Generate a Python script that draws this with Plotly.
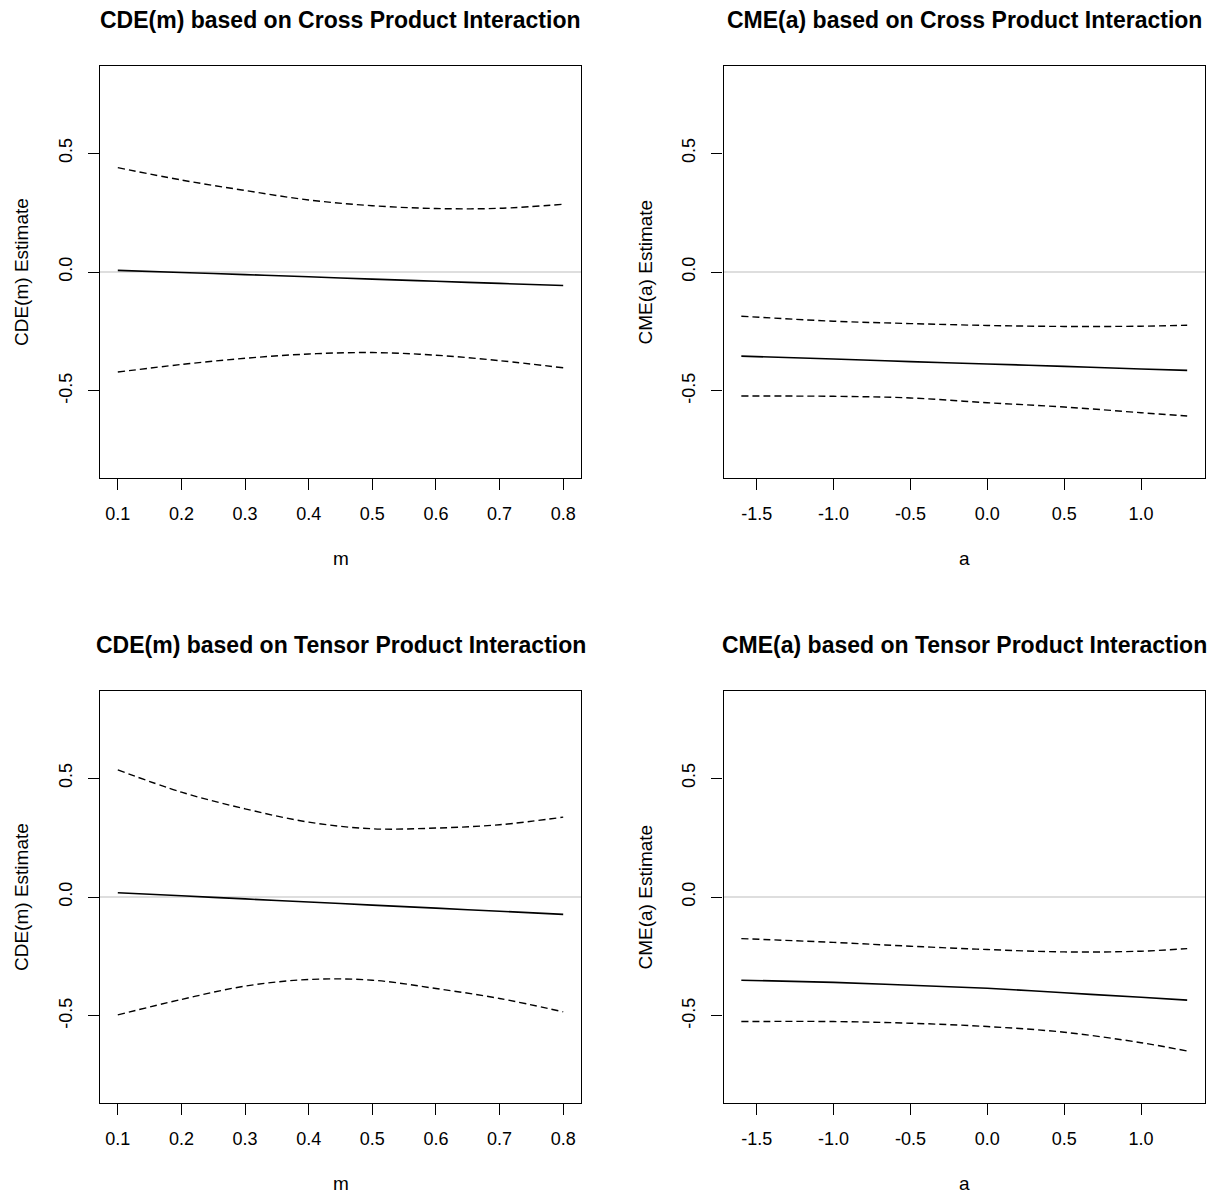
import plotly.graph_objects as go

# ---------------- data ----------------
m_vals = [0.1, 0.2, 0.3, 0.4, 0.5, 0.6, 0.7, 0.8]
a_vals = [-1.6, -1.0, -0.5, 0.0, 0.5, 1.0, 1.3]

# CDE(m), cross product interaction
cde_cross_est = [0.007, -0.002, -0.011, -0.020, -0.030, -0.039, -0.048, -0.057]
cde_cross_up = [0.439, 0.387, 0.343, 0.303, 0.279, 0.267, 0.268, 0.285]
cde_cross_lo = [-0.421, -0.389, -0.363, -0.345, -0.339, -0.350, -0.373, -0.403]

# CME(a), cross product interaction
cme_cross_est = [-0.354, -0.366, -0.377, -0.387, -0.397, -0.408, -0.414]
cme_cross_up = [-0.186, -0.207, -0.217, -0.225, -0.229, -0.228, -0.224]
cme_cross_lo = [-0.522, -0.523, -0.530, -0.550, -0.568, -0.592, -0.606]

# CDE(m), tensor product interaction
cde_tensor_est = [0.018, 0.005, -0.008, -0.021, -0.034, -0.047, -0.060, -0.073]
cde_tensor_up = [0.535, 0.441, 0.371, 0.315, 0.287, 0.290, 0.304, 0.336]
cde_tensor_lo = [-0.496, -0.431, -0.375, -0.347, -0.350, -0.385, -0.427, -0.483]

# CME(a), tensor product interaction
cme_tensor_est = [-0.350, -0.359, -0.371, -0.384, -0.403, -0.422, -0.434]
cme_tensor_up = [-0.175, -0.191, -0.207, -0.221, -0.231, -0.228, -0.217]
cme_tensor_lo = [-0.524, -0.524, -0.531, -0.545, -0.569, -0.613, -0.648]

titles = ["CDE(m) based on Cross Product Interaction",
          "CME(a) based on Cross Product Interaction",
          "CDE(m) based on Tensor Product Interaction",
          "CME(a) based on Tensor Product Interaction"]
ylabels = ["CDE(m) Estimate", "CME(a) Estimate", "CDE(m) Estimate", "CME(a) Estimate"]
xlabels = ["m", "a", "m", "a"]
m_ticks = [0.1, 0.2, 0.3, 0.4, 0.5, 0.6, 0.7, 0.8]
a_ticks = [-1.5, -1.0, -0.5, 0.0, 0.5, 1.0]
y_ticks = [-0.5, 0.0, 0.5]

# ---------------- layout geometry ----------------
OFF = 8  # page body margin in browser
W, H = 1216 - OFF, 1197 - OFF
FONT = "Liberation Sans, Arial, sans-serif"
panels_px = [  # (left, right, top, bottom) in page pixels
    (100, 581, 66, 478),
    (723.5, 1205, 66, 478),
    (100, 581, 691, 1103),
    (723.5, 1205, 691, 1103),
]

panel_data = [
    (m_vals, cde_cross_est, cde_cross_up, cde_cross_lo),
    (a_vals, cme_cross_est, cme_cross_up, cme_cross_lo),
    (m_vals, cde_tensor_est, cde_tensor_up, cde_tensor_lo),
    (a_vals, cme_tensor_est, cme_tensor_up, cme_tensor_lo),
]


def px_x(p):
    return (p - OFF) / W


def px_y(p):
    return 1 - (p - OFF) / H


fig = go.Figure()
annotations = []
layout_axes = {}

for i, ((l, r, t, b), (xs, est, up, lo)) in enumerate(zip(panels_px, panel_data)):
    n = i + 1
    xa = "x" if n == 1 else f"x{n}"
    ya = "y" if n == 1 else f"y{n}"
    xkey = "xaxis" if n == 1 else f"xaxis{n}"
    ykey = "yaxis" if n == 1 else f"yaxis{n}"

    xmin, xmax = min(xs), max(xs)
    pad = 0.04 * (xmax - xmin)
    ticks = m_ticks if xlabels[i] == "m" else a_ticks

    # zero reference line (grey)
    fig.add_trace(go.Scatter(x=[xmin - pad, xmax + pad], y=[0, 0], mode="lines",
                             line=dict(color="#bebebe", width=1.2),
                             xaxis=xa, yaxis=ya, showlegend=False, hoverinfo="skip"))
    fig.add_trace(go.Scatter(x=xs, y=up, mode="lines", line_shape="spline",
                             line=dict(color="black", width=1.4, dash="7px,4px"),
                             xaxis=xa, yaxis=ya, showlegend=False))
    fig.add_trace(go.Scatter(x=xs, y=lo, mode="lines", line_shape="spline",
                             line=dict(color="black", width=1.4, dash="7px,4px"),
                             xaxis=xa, yaxis=ya, showlegend=False))
    fig.add_trace(go.Scatter(x=xs, y=est, mode="lines", line_shape="spline",
                             line=dict(color="black", width=1.6),
                             xaxis=xa, yaxis=ya, showlegend=False))

    layout_axes[xkey] = dict(
        domain=[px_x(l), px_x(r)], anchor=ya, range=[xmin - pad, xmax + pad],
        tickvals=ticks, ticktext=[f"{v:.1f}" for v in ticks],
        ticks="outside", ticklen=11, tickwidth=1, tickcolor="black",
        ticklabelstandoff=8,
        showline=True, linecolor="black", linewidth=1.2, mirror=True,
        showgrid=False, zeroline=False,
        tickfont=dict(family=FONT, size=18, color="black"),
    )
    layout_axes[ykey] = dict(
        domain=[px_y(b), px_y(t)], anchor=xa, range=[-0.8667, 0.8667],
        tickvals=y_ticks, ticktext=[f"{v:.1f}" for v in y_ticks],
        ticks="outside", ticklen=11, tickwidth=1, tickcolor="black", tickangle=-90,
        ticklabelstandoff=9,
        showline=True, linecolor="black", linewidth=1.2, mirror=True,
        showgrid=False, zeroline=False,
        tickfont=dict(family=FONT, size=18, color="black"),
    )

    cx = px_x((l + r) / 2)
    # title
    annotations.append(dict(text=f"<b>{titles[i]}</b>", x=cx, y=px_y(t - 46),
                            xref="paper", yref="paper", showarrow=False,
                            xanchor="center", yanchor="middle",
                            font=dict(family=FONT, size=23, color="black")))
    # x label
    annotations.append(dict(text=xlabels[i], x=cx, y=px_y(b + 80),
                            xref="paper", yref="paper", showarrow=False,
                            xanchor="center", yanchor="middle",
                            font=dict(family=FONT, size=19, color="black")))
    # y label
    annotations.append(dict(text=ylabels[i], x=px_x(l - 79), y=px_y((t + b) / 2),
                            xref="paper", yref="paper", showarrow=False, textangle=-90,
                            xanchor="center", yanchor="middle",
                            font=dict(family=FONT, size=19, color="black")))

fig.update_layout(
    width=W, height=H,
    margin=dict(l=0, r=0, t=0, b=0),
    paper_bgcolor="white", plot_bgcolor="white",
    annotations=annotations,
    showlegend=False,
    **layout_axes,
)

fig.write_html("out.html")
